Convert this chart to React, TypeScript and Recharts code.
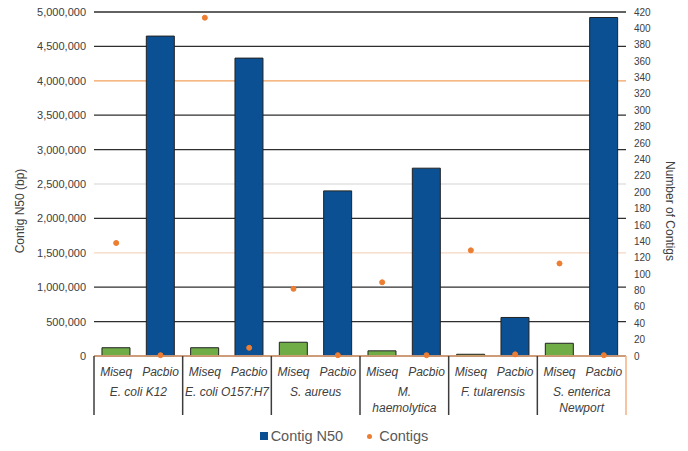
import React from "react";
import {
  Bar,
  CartesianGrid,
  Cell,
  ComposedChart,
  Legend,
  Line,
  XAxis,
  YAxis,
} from "recharts";

const strains = [
  ["E. coli K12"],
  ["E. coli O157:H7"],
  ["S. aureus"],
  ["M.", "haemolytica"],
  ["F. tularensis"],
  ["S. enterica", "Newport"],
];
const platforms = ["Miseq", "Pacbio"];

// one value per strain/platform pair, Miseq first
const contigN50 = [120000, 4650000, 120000, 4330000, 200000, 2400000, 75000, 2730000, 25000, 560000, 185000, 4920000];
const contigCount = [138, 1, 413, 10, 82, 1, 90, 1, 129, 2, 113, 1];

const n50Ticks = [0, 500000, 1000000, 1500000, 2000000, 2500000, 3000000, 3500000, 4000000, 4500000, 5000000];
const countTicks = [0, 20, 40, 60, 80, 100, 120, 140, 160, 180, 200, 220, 240, 260, 280, 300, 320, 340, 360, 380, 400, 420];

const rows = contigN50.map((n50, i) => ({
  id: i,
  platform: platforms[i % 2],
  strain: strains[Math.floor(i / 2)],
  n50,
  contigs: contigCount[i],
}));

const BLUE = "#0b5092";
const GREEN = "#70ad47";
const ORANGE = "#ed7d31";
const TEXT = "#404040";
const FONT = "'Liberation Sans', Arial, sans-serif";

// gridline colours by height, in pixels from the top of the plot
const gridColour = (y: number) => {
  const rel = Math.round((y - 12) / 34.4);
  if (rel === 2) return "#f4a15f";
  if (rel === 5) return "#e2e2e2";
  if (rel === 7) return "#f6d6c2";
  return "#2e2e2e";
};

const GridLine = (props: any) => {
  const { x1, x2, y1, y2 } = props;
  return <line x1={x1} x2={x2} y1={y1} y2={y2} stroke={gridColour(y1)} strokeWidth={1.3} />;
};

const CategoryTick = (props: any) => {
  const { x, y, payload, width } = props;
  const i = payload.value as number;
  const row = rows[i];
  const band = width / rows.length;
  const left = x - band / 2;
  const top = y - 8;
  return (
    <g>
      <text x={x} y={top + 20} textAnchor="middle" fontSize={12} fontStyle="italic" fill={TEXT} fontFamily={FONT}>
        {row.platform}
      </text>
      {i % 2 === 0 && (
        <>
          <line x1={left} x2={left} y1={top} y2={top + 59} stroke="#3c3c3c" strokeWidth={1.5} />
          {row.strain.map((t, k) => (
            <text
              key={k}
              x={x + band / 2}
              y={top + 40 + k * 16}
              textAnchor="middle"
              fontSize={12}
              fontStyle="italic"
              fill={TEXT}
              fontFamily={FONT}
            >
              {t}
            </text>
          ))}
        </>
      )}
      {i === rows.length - 1 && (
        <line x1={x + band / 2} x2={x + band / 2} y1={top} y2={top + 59} stroke="#f4b183" strokeWidth={1.5} />
      )}
    </g>
  );
};

const LegendContent = () => (
  <div
    style={{
      display: "flex",
      justifyContent: "center",
      alignItems: "center",
      gap: 24,
      fontFamily: FONT,
      fontSize: 14.5,
      color: "#595959",
      paddingTop: 12,
    }}
  >
    <span style={{ display: "flex", alignItems: "center", gap: 3 }}>
      <span style={{ width: 8, height: 8, background: BLUE, display: "inline-block" }} />
      Contig N50
    </span>
    <span style={{ display: "flex", alignItems: "center", gap: 7 }}>
      <span style={{ width: 5, height: 5, borderRadius: 3, background: ORANGE, display: "inline-block" }} />
      Contigs
    </span>
  </div>
);

export default function App() {
  return (
    <div style={{ position: "absolute", left: 0, top: 0 }}>
      <ComposedChart
        width={688}
        height={451}
        data={rows}
        margin={{ top: 12, right: 0, left: 0, bottom: 0 }}
        barCategoryGap="18%"
      >
        <CartesianGrid vertical={false} horizontal={<GridLine />} yAxisId="n50" />
        <XAxis
          dataKey="id"
          interval={0}
          height={60}
          tickLine={false}
          axisLine={{ stroke: "#f4b183", strokeWidth: 1.5 }}
          tick={<CategoryTick />}
        />
        <YAxis
          yAxisId="n50"
          width={94}
          domain={[0, 5000000]}
          ticks={n50Ticks}
          axisLine={false}
          tickLine={false}
          tickFormatter={(v: number) => v.toLocaleString("en-US")}
          tick={{ fontSize: 11, fill: TEXT, fontFamily: FONT }}
          label={{
            value: "Contig N50 (bp)",
            angle: -90,
            position: "insideLeft",
            offset: 20,
            dy: 27,
            style: { fontSize: 12, fill: TEXT, fontFamily: FONT, textAnchor: "middle" },
          }}
        />
        <YAxis
          yAxisId="count"
          orientation="right"
          width={62}
          domain={[0, 420]}
          ticks={countTicks}
          interval={0}
          axisLine={false}
          tickLine={false}
          tick={{ fontSize: 10, fill: TEXT, fontFamily: FONT }}
          label={{
            value: "Number of Contigs",
            angle: 90,
            position: "insideRight",
            offset: 18,
            dy: 27,
            style: { fontSize: 12, fill: TEXT, fontFamily: FONT, textAnchor: "middle" },
          }}
        />
        <Bar yAxisId="n50" dataKey="n50" isAnimationActive={false} stroke="#222" strokeWidth={1}>
          {rows.map((r) => (
            <Cell key={r.id} fill={r.platform === "Miseq" ? GREEN : BLUE} />
          ))}
        </Bar>
        <Line
          yAxisId="count"
          dataKey="contigs"
          stroke="none"
          isAnimationActive={false}
          dot={{ r: 2.5, fill: ORANGE, stroke: ORANGE }}
          activeDot={false}
        />
        <Legend verticalAlign="bottom" height={35} content={<LegendContent />} />
      </ComposedChart>
    </div>
  );
}
